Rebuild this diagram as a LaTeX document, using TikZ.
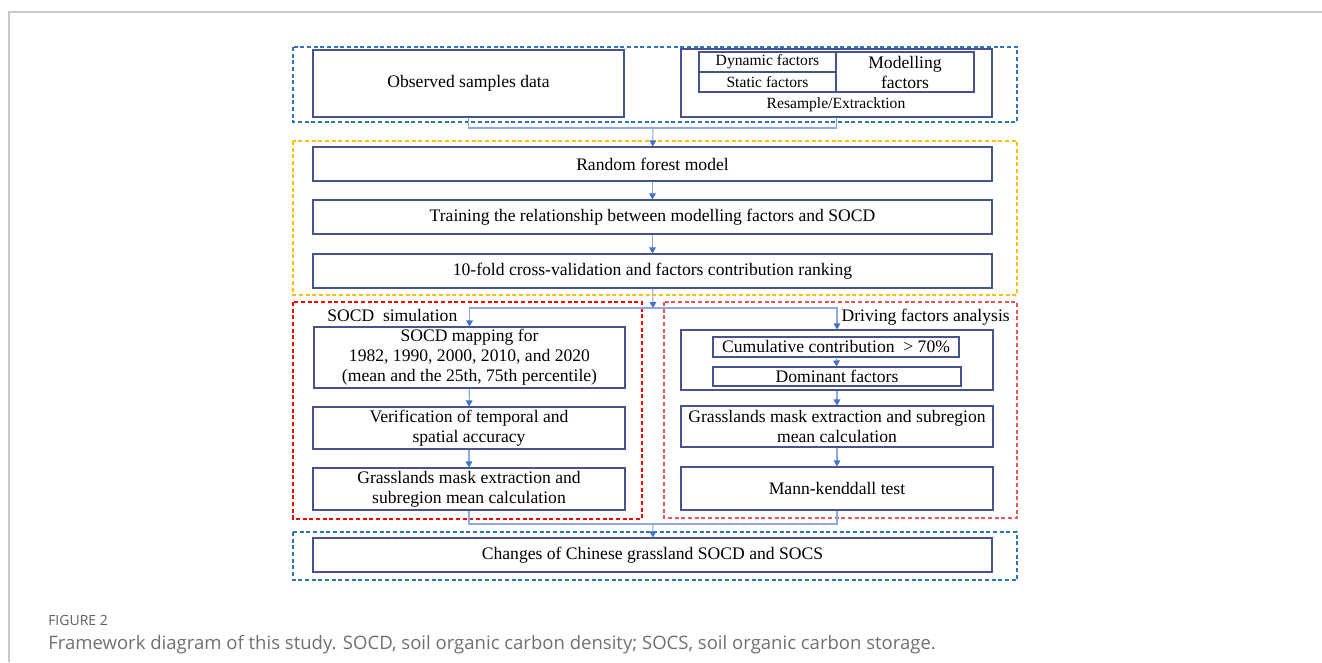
\documentclass[tikz,border=0pt]{standalone}
\usepackage{fontspec}
\setmainfont{Liberation Serif}
\newfontfamily\capfont{Open Sans}
\usetikzlibrary{arrows.meta}

\definecolor{boxblue}{HTML}{45548F}
\definecolor{linkblue}{HTML}{8EA9DB}
\definecolor{tipblue}{HTML}{4472C4}
\definecolor{grpblue}{HTML}{2E75B6}
\definecolor{grpyellow}{HTML}{FFC000}
\definecolor{grpred}{HTML}{FF0000}
\definecolor{grppink}{HTML}{E8585A}
\definecolor{framegray}{HTML}{C8C8C8}
\definecolor{capgray}{HTML}{707070}

\tikzset{
  box/.style={draw=boxblue, line width=0.8pt, inner sep=0pt, align=center,
    font=\fontsize{13.2}{15}\selectfont},
  smallbox/.style={box, font=\fontsize{11.7}{14}\selectfont},
  boxsize/.style 2 args={minimum width=#1*0.75pt, minimum height=#2*0.75pt},
  group/.style={line width=0.9pt, dash pattern=on 3pt off 2pt},
  link/.style={draw=linkblue, line width=0.8pt},
  arrow/.style={link, -{Triangle[width=5pt,length=4.5pt,color=tipblue]}},
  title/.style={inner sep=0pt, font=\fontsize{13.2}{15}\selectfont}
}

\begin{document}
\begin{tikzpicture}[x=0.75pt,y=-0.75pt]
\useasboundingbox (0,0) rectangle (1322,662);

% page frame
\draw[framegray, line width=1.1pt] (9,662) -- (9,12) -- (1322,12);

% dashed groups
\draw[group, grpblue] (293,47) rectangle (1017,122);
\draw[group, grpyellow] (293,141) rectangle (1017,295);
\draw[group, grpred] (293,302) rectangle (642,519);
\draw[group, grppink] (664,302) rectangle (1017,518);
\draw[group, grpblue] (293,532) rectangle (1017,580);

% input data
\node[box, boxsize={311}{67}] (obs) at (468.5,83.5) {Observed samples data};
\node[box, boxsize={311}{68}] (mod) at (836.5,83) {};
\node[smallbox, boxsize={137}{20}] (dyn) at (767.5,62) {Dynamic factors};
\node[smallbox, boxsize={137}{20}] (sta) at (767.5,82) {Static factors};
\node[box, boxsize={138}{40}, text width=120*0.75pt] (modf) at (905,72) {Modelling\\factors};
\node[title, font=\fontsize{11.7}{14}\selectfont] (res) at (836,105) {Resample/Extracktion};

% model
\node[box, boxsize={679}{34}] (rf) at (652.5,164) {Random forest model};
\node[box, boxsize={679}{34}] (train) at (652.5,217) {Training the relationship between modelling factors and SOCD};
\node[box, boxsize={679}{34}] (cv) at (652.5,271) {10-fold cross-validation and factors contribution ranking};

% SOCD simulation
\node[title, anchor=west] (simlab) at (327,315) {SOCD\ \ simulation};
\node[box, boxsize={311}{61}] (map) at (469.5,357.5) {SOCD mapping for\\1982, 1990, 2000, 2010, and 2020\\(mean and the 25th, 75th percentile)};
\node[box, boxsize={312}{42}] (ver) at (469,428) {Verification of temporal and\\spatial accuracy};
\node[box, boxsize={312}{42}] (gl) at (469,489) {Grasslands mask extraction and\\subregion mean calculation};

% driving factors
\node[title, anchor=east] (drvlab) at (1010,317) {Driving factors analysis};
\node[box, boxsize={312}{60}] (drv) at (837,360) {};
\node[box, boxsize={246}{20}] (cum) at (836,347) {Cumulative contribution\ \ > 70\%};
\node[box, boxsize={248}{19}] (dom) at (837,376.5) {Dominant factors};
\node[box, boxsize={312}{41}] (gr) at (837,426.5) {Grasslands mask extraction and subregion\\mean calculation};
\node[box, boxsize={312}{43}] (mk) at (837,488.5) {Mann-kenddall test};

% result
\node[box, boxsize={679}{34}] (chg) at (652.5,555) {Changes of Chinese grassland SOCD and SOCS};

% connectors
\coordinate (j1) at (653,128);
\coordinate (j2) at (653,308);
\coordinate (j3) at (653,524);
\draw[link] (obs.south) |- (j1) -| (mod.south);
\draw[arrow] (j1) -- (rf);
\draw[arrow] (rf) -- (train);
\draw[arrow] (train) -- (cv);
\draw[arrow] (cv) -- (j2);
\draw[arrow] (j2) -| (map.north);
\draw[arrow] (j2) -| (drv.north);
\draw[arrow] (map) -- (ver);
\draw[arrow] (ver) -- (gl);
\draw[arrow] (cum) -- (dom);
\draw[arrow] (drv) -- (gr);
\draw[arrow] (gr) -- (mk);
\draw[link] (gl.south) |- (j3) -| (mk.south);
\draw[arrow] (j3) -- (chg);

% caption
\node[anchor=west, inner sep=0pt, text=capgray!85!black, font=\capfont\fontsize{10.5}{12}\selectfont] (fig) at (48,620) {FIGURE 2};
\node[anchor=west, inner sep=0pt, text=capgray, font=\capfont\fontsize{13.9}{16}\selectfont] (cap) at (48,645) {Framework diagram of this study. SOCD, soil organic carbon density; SOCS, soil organic carbon storage.};
\end{tikzpicture}
\end{document}
